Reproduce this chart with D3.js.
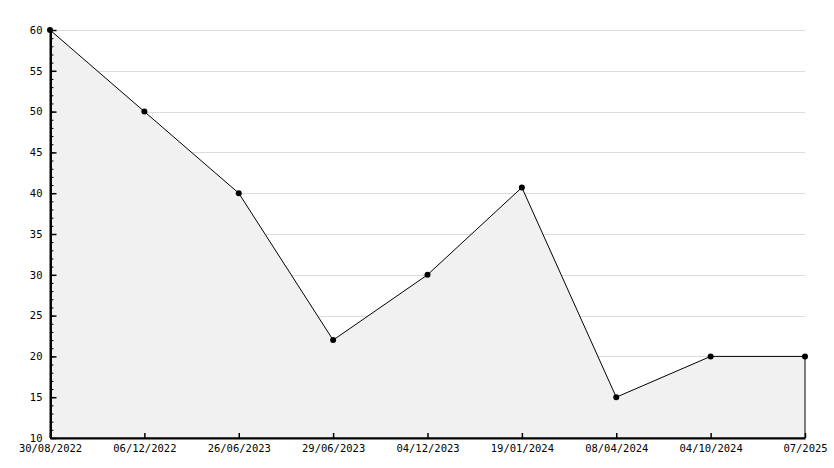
<!DOCTYPE html>
<html><head><meta charset="utf-8">
<script src="https://cdn.jsdelivr.net/npm/d3@7"></script>
<style>body{margin:0;background:#fff}svg{display:block}</style>
</head><body>
<svg id="c" width="834" height="468"></svg>
<script>
const categories = ["30/08/2022","06/12/2022","26/06/2023","29/06/2023","04/12/2023","19/01/2024","08/04/2024","04/10/2024","07/2025"];
const values = [60, 50, 40, 22, 30, 40.7, 15, 20, 20];
const yTicks = [10,15,20,25,30,35,40,45,50,55,60];

const svg = d3.select("#c");
const x = d3.scalePoint().domain(categories).range([50, 805]);
const y = d3.scaleLinear().domain([10, 60]).range([438, 30]);
const font = "'DejaVu Sans Mono', monospace";

// grid
svg.append("g").selectAll("line").data(yTicks.filter(d=>d>10)).join("line")
  .attr("x1", 50).attr("x2", 805)
  .attr("y1", d=>Math.round(y(d))+0.5).attr("y2", d=>Math.round(y(d))+0.5)
  .attr("stroke", "#dcdcdc").attr("stroke-width", 1);

// area
const data = categories.map((c,i)=>({c, v: values[i]}));
const area = d3.area().x(d=>x(d.c)).y0(y(10)).y1(d=>y(d.v));
svg.append("path").datum(data).attr("d", area)
  .attr("fill", "#f1f1f1").attr("stroke", "#000").attr("stroke-width", 1);

// minor y ticks
const yMinor = svg.append("g").attr("transform","translate(50.5,0)")
  .call(d3.axisLeft(y).tickValues(d3.range(10,61,1)).tickSize(-3).tickSizeOuter(0).tickFormat(""));
yMinor.select(".domain").remove();

// major y axis
const yAx = svg.append("g").attr("transform","translate(50.5,0)")
  .call(d3.axisLeft(y).tickValues(yTicks).tickSize(-6).tickSizeOuter(0).tickPadding(8));
yAx.select(".domain").attr("stroke-width", 2);
yAx.selectAll(".tick line").attr("stroke-width", 1.5);
yAx.selectAll("text").attr("font-family", font).attr("font-size", 10.5).attr("fill","#000");

// x axis
const xAx = svg.append("g").attr("transform","translate(0,438)")
  .call(d3.axisBottom(x).tickSize(-5).tickSizeOuter(0).tickPadding(7));
xAx.select(".domain").attr("stroke-width", 2);
xAx.selectAll(".tick line").attr("stroke-width", 1.5);
xAx.selectAll("text").attr("font-family", font).attr("font-size", 10.5).attr("fill","#000");

// points
svg.append("g").selectAll("circle").data(data).join("circle")
  .attr("cx", d=>x(d.c)).attr("cy", d=>y(d.v)).attr("r", 3).attr("fill", "#000");
</script>
</body></html>
